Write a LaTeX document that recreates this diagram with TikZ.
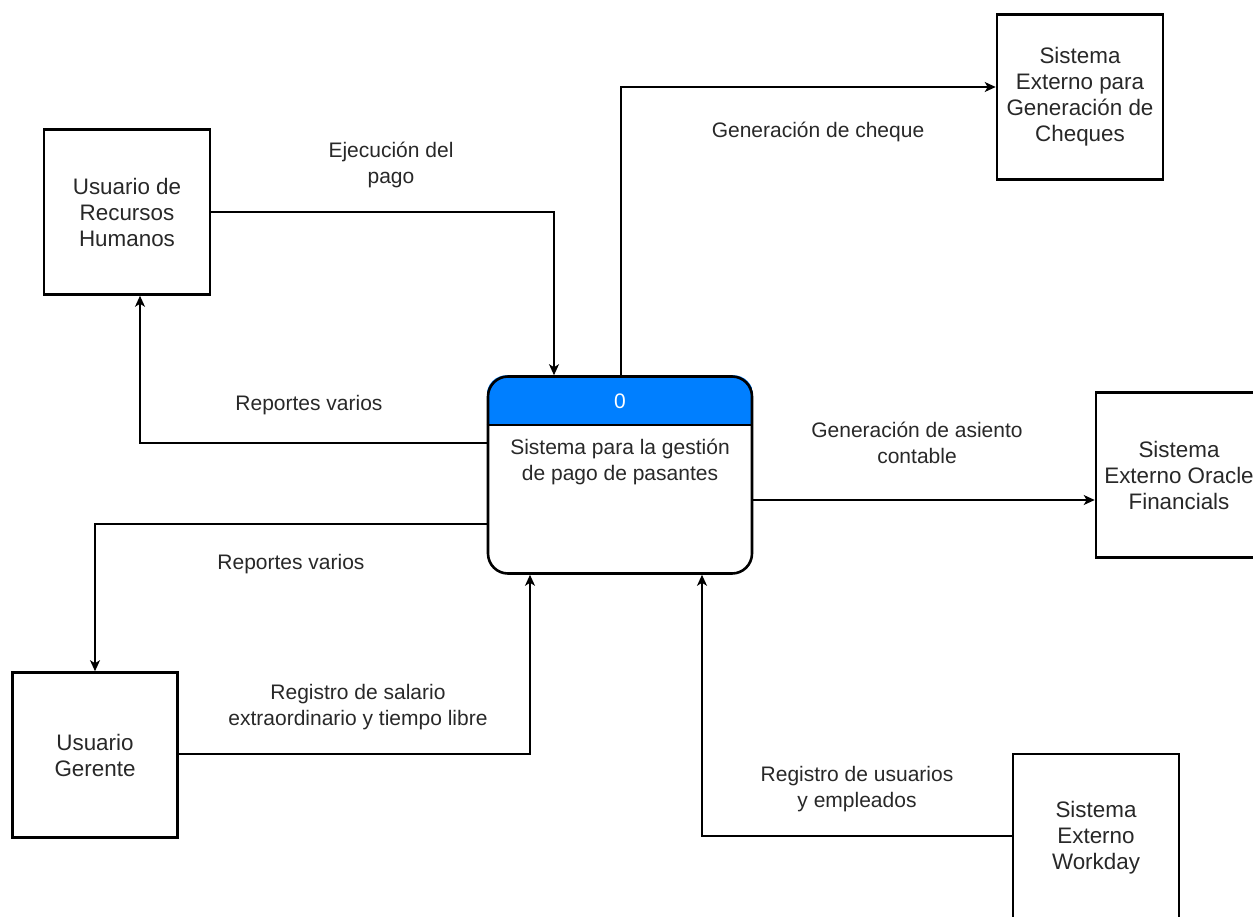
\documentclass[tikz,border=0pt]{standalone}
\usepackage{fontspec}
\setmainfont{Liberation Sans}
\usetikzlibrary{arrows.meta,backgrounds}
\definecolor{hdrblue}{RGB}{0,127,255}
\definecolor{txt}{RGB}{40,40,40}
\tikzset{
  ent/.style={draw=black, line width=2.6pt, fill=white, inner sep=0pt, align=center,
    text=txt, font=\fontsize{22.4}{26}\selectfont},
  proc/.style={draw=black, line width=2.6pt, rounded corners=20pt, inner sep=0pt,
    minimum width=264pt, minimum height=197pt},
  flow/.style={draw=black, line width=1.3pt, -{Stealth[length=11pt,width=10pt,inset=3pt]}},
  lbl/.style={inner sep=0pt, align=center, text=txt, font=\fontsize{21}{25.5}\selectfont},
}
\begin{document}
\begin{tikzpicture}[x=1pt,y=-1pt]
\useasboundingbox (0,0) rectangle (1253,916);

% entities
\node[ent, minimum width=166pt, minimum height=165pt] (rh) at (127,212) {Usuario de\\Recursos\\Humanos};
\node[ent, minimum width=166pt, minimum height=165pt] (ch) at (1080,97) {Sistema\\Externo para\\Generación de\\Cheques};
\node[ent, minimum width=166pt, minimum height=165pt] (or) at (1179,475) {Sistema\\Externo Oracle\\Financials};
\node[ent, minimum width=165pt, minimum height=165pt] (ge) at (95,755) {Usuario\\Gerente};
\node[ent, minimum width=166pt, minimum height=168pt] (wd) at (1096,838) {Sistema\\Externo\\Workday};

% process
\node[proc] (c) at (620,475) {};
\begin{scope}[on background layer]
  \fill[white, rounded corners=20pt] (c.north west) rectangle (c.south east);
  \begin{scope}
    \clip[rounded corners=20pt] (c.north west) rectangle (c.south east);
    \fill[hdrblue] (c.north west) rectangle (c.east |- 0,425);
  \end{scope}
\end{scope}
\draw[line width=2.6pt] (c.west |- 0,425) -- (c.east |- 0,425);
\node[lbl, text=white] (c0) at (620,401) {0};
\node[lbl] (ct) at (620,462) {Sistema para la gestión\\de pago de pasantes};

% flows
\draw[flow] (rh.east) -| (c.north -| 554,0);
\draw[flow] (c.north -| 621,0) |- (ch.west |- 0,87);
\draw[flow] (c.west |- 0,443) -| (rh.south -| 140,0);
\draw[flow] (c.west |- 0,524) -| (ge.north);
\draw[flow] (ge.east |- 0,754) -| (c.south -| 530,0);
\draw[flow] (wd.west |- 0,836) -| (c.south -| 702,0);
\draw[flow] (c.east |- 0,500) -- (or.west |- 0,500);

% labels
\node[lbl] (l1) at (391,165) {Ejecución del\\pago};
\node[lbl] (l2) at (818,132) {Generación de cheque};
\node[lbl] (l3) at (309,405) {Reportes varios};
\node[lbl] (l4) at (291,564) {Reportes varios};
\node[lbl] (l5) at (358,707) {Registro de salario\\extraordinario y tiempo libre};
\node[lbl] (l6) at (857,789) {Registro de usuarios\\y empleados};
\node[lbl] (l7) at (917,443) {Generación de asiento\\contable};
\end{tikzpicture}
\end{document}
